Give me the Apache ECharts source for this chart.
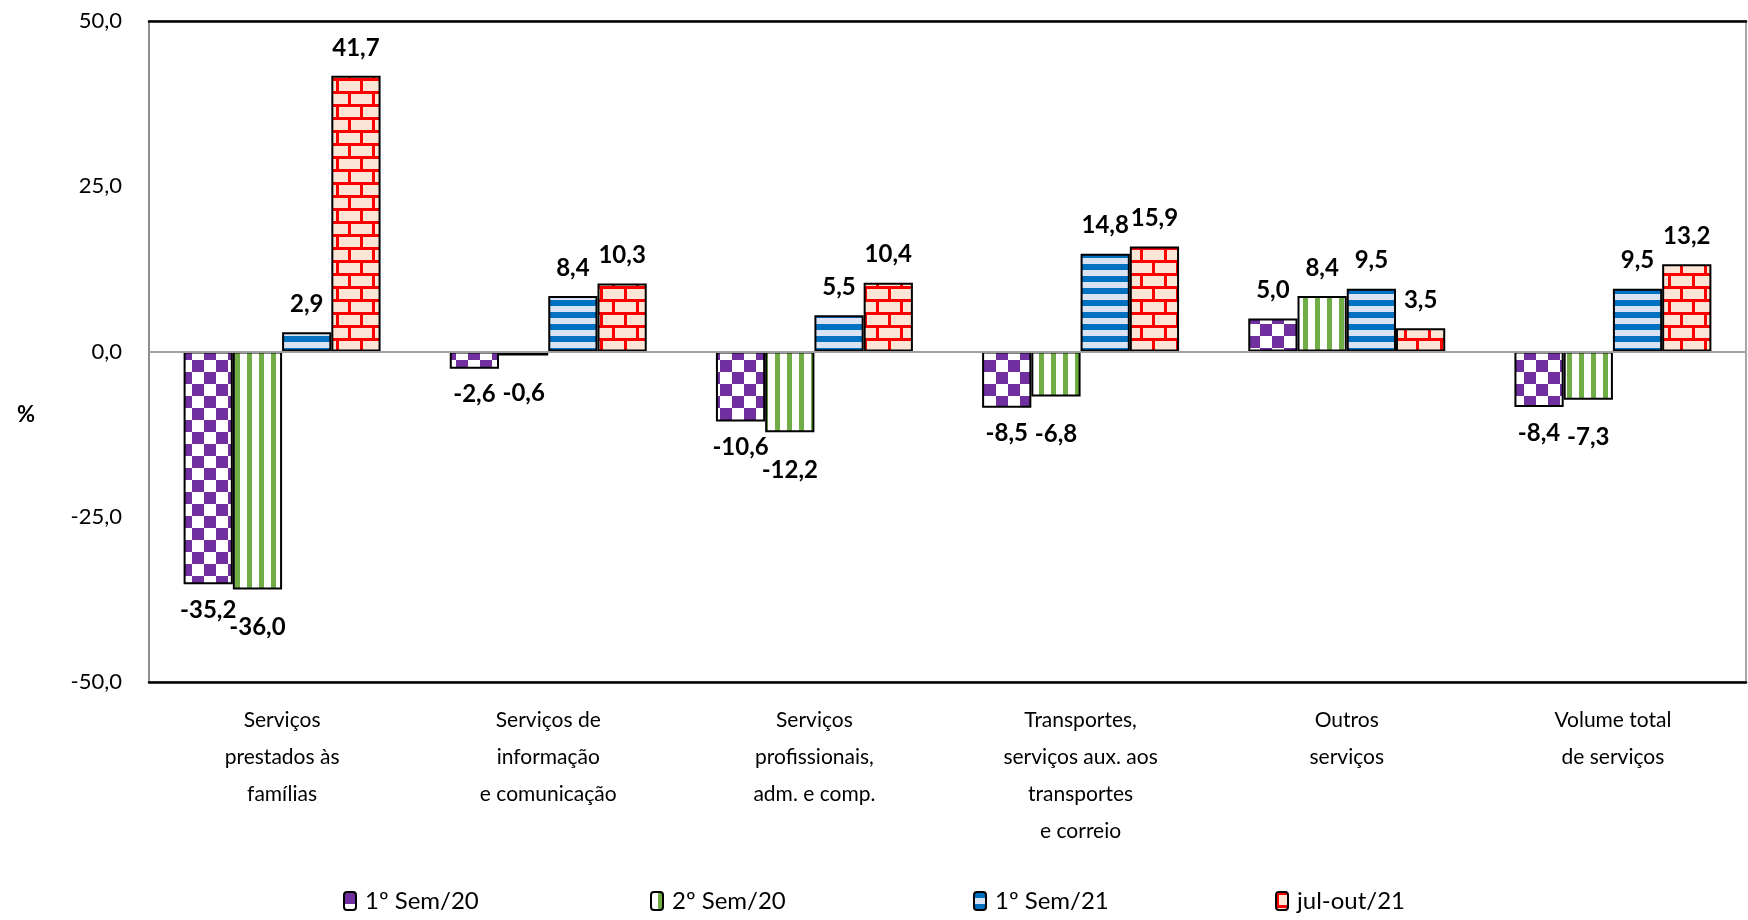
<!DOCTYPE html>
<html>
<head>
<meta charset="utf-8">
<title>Volume de serviços</title>
<script src="https://cdn.jsdelivr.net/npm/echarts@6/dist/echarts.min.js"></script>
<style>
  html, body { margin: 0; padding: 0; background: #fff; }
  #chart { width: 1748px; height: 920px; }
</style>
</head>
<body>
<div id="chart"></div>
<script>
// Categories on the x axis
const categories = [
  'Serviços\nprestados às\nfamílias',
  'Serviços de\ninformação\ne comunicação',
  'Serviços\nprofissionais,\nadm. e comp.',
  'Transportes,\nserviços aux. aos\ntransportes\ne correio',
  'Outros\nserviços',
  'Volume total\nde serviços'
];

// Series names
const seriesNames = ['1º Sem/20', '2º Sem/20', '1º Sem/21', 'jul-out/21'];

// Values (%)
const sem1_20 = [-35.2, -2.6, -10.6, -8.5, 5.0, -8.4];
const sem2_20 = [-36.0, -0.6, -12.2, -6.8, 8.4, -7.3];
const sem1_21 = [2.9, 8.4, 5.5, 14.8, 9.5, 9.5];
const julOut21 = [41.7, 10.3, 10.4, 15.9, 3.5, 13.2];

// Value axis range
const yMin = -50;
const yMax = 50;
const yStep = 25;

// ---- pattern fills ----
function makeCanvas(w, h) {
  const c = document.createElement('canvas');
  c.width = w; c.height = h;
  return c;
}
function checkerPattern() {
  const c = makeCanvas(24, 24), g = c.getContext('2d');
  g.fillStyle = '#ffffff'; g.fillRect(0, 0, 24, 24);
  g.fillStyle = '#7030A0';
  g.fillRect(0, 0, 12, 12);
  g.fillRect(12, 12, 12, 12);
  return c;
}
function verticalStripePattern() {
  const c = makeCanvas(12, 12), g = c.getContext('2d');
  g.fillStyle = '#ffffff'; g.fillRect(0, 0, 12, 12);
  g.fillStyle = '#70AD47'; g.fillRect(7, 0, 5, 12);
  return c;
}
function horizontalStripePattern() {
  const c = makeCanvas(12, 12), g = c.getContext('2d');
  g.fillStyle = '#DAE3F3'; g.fillRect(0, 0, 12, 12);
  g.fillStyle = '#0070C0'; g.fillRect(0, 0, 12, 6);
  return c;
}
function brickPattern() {
  const c = makeCanvas(24, 26), g = c.getContext('2d');
  g.fillStyle = '#FBE5D6'; g.fillRect(0, 0, 24, 26);
  g.fillStyle = '#FF0000';
  g.fillRect(0, 0, 24, 3);
  g.fillRect(0, 13, 24, 3);
  g.fillRect(0, 0, 3, 13);
  g.fillRect(12, 13, 3, 13);
  return c;
}

const fills = [checkerPattern(), verticalStripePattern(), horizontalStripePattern(), brickPattern()];
const values = [sem1_20, sem2_20, sem1_21, julOut21];
// gap between a negative bar's end and its value label, per series
const belowGap = [14, 26, 14, 14];

const fmt = v => v.toFixed(1).replace('.', ',');
const FONT = 'Lato, "Open Sans", sans-serif';

const series = seriesNames.map((name, i) => ({
  name: name,
  type: 'bar',
  barGap: '0%',
  barCategoryGap: '26%',
  itemStyle: {
    color: { image: fills[i], repeat: 'repeat' },
    borderColor: '#000',
    borderWidth: 2
  },
  label: {
    show: true,
    fontFamily: FONT,
    fontSize: 24,
    fontWeight: 'bold',
    color: '#000',
    distance: 16,
    formatter: p => fmt(p.value)
  },
  data: values[i].map(v => ({
    value: v,
    label: v < 0 ? { position: 'bottom', distance: belowGap[i] } : { position: 'top' }
  })),
  markLine: i === 0 ? {
    silent: true,
    symbol: 'none',
    label: { show: false },
    lineStyle: { color: '#a0a0a0', width: 2, type: 'solid' },
    data: [{ yAxis: 0 }]
  } : undefined
}));

// One legend per series so each entry sits at its own spot
const legendLeft = [343, 650, 973, 1275];
const legends = seriesNames.map((name, i) => ({
  data: [name],
  left: legendLeft[i],
  top: 889,
  padding: 0,
  itemWidth: 12,
  itemHeight: 18,
  itemStyle: { borderColor: '#000', borderWidth: 2 },
  textStyle: { fontFamily: FONT, fontSize: 24, color: '#000', padding: [0, 0, 0, 4] },
  selectedMode: false
}));

const chart = echarts.init(document.getElementById('chart'), null, { renderer: 'canvas' });
chart.setOption({
  animation: false,
  backgroundColor: '#fff',
  textStyle: { fontFamily: FONT },
  grid: {
    left: 149, right: 2, top: 21, bottom: 238,
    show: true, borderColor: '#888', borderWidth: 1.5, backgroundColor: 'transparent'
  },
  legend: legends,
  xAxis: [
    {
      type: 'category',
      data: categories,
      position: 'bottom',
      axisLine: { onZero: false, lineStyle: { color: '#000', width: 2.5 } },
      axisTick: { show: false },
      axisLabel: {
        interval: 0,
        margin: 20,
        fontFamily: FONT,
        fontSize: 21,
        lineHeight: 37,
        color: '#000'
      }
    },
    {
      type: 'category',
      data: categories,
      position: 'top',
      axisLine: { onZero: false, lineStyle: { color: '#000', width: 2.5 } },
      axisTick: { show: false },
      axisLabel: { show: false }
    }
  ],
  yAxis: {
    type: 'value',
    min: yMin,
    max: yMax,
    interval: yStep,
    axisLine: { show: true, lineStyle: { color: '#888', width: 1.5 } },
    axisTick: { show: false },
    splitLine: { show: false },
    axisLabel: {
      margin: 27,
      fontFamily: FONT,
      fontSize: 22,
      color: '#000',
      formatter: v => fmt(v)
    }
  },
  graphic: [
    {
      type: 'text',
      left: 17,
      top: 404,
      style: { text: '%', fontFamily: FONT, fontSize: 22, fontWeight: 'bold', fill: '#000' }
    }
  ],
  series: series
});
</script>
</body>
</html>
